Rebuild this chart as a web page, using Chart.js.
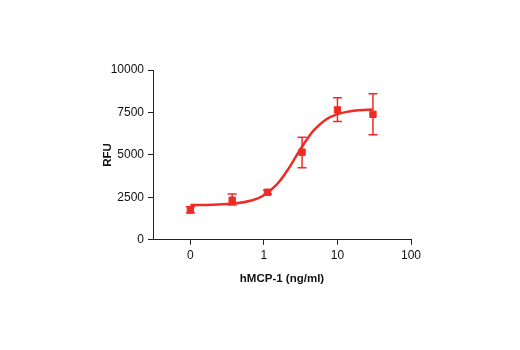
<!DOCTYPE html>
<html>
<head>
<meta charset="utf-8">
<script src="https://cdn.jsdelivr.net/npm/chart.js@4"></script>
<style>
  html, body { margin: 0; padding: 0; background: #fff; }
  #wrap { width: 520px; height: 350px; }
</style>
</head>
<body>
<div id="wrap"><canvas id="canvas-grafico-rfu"></canvas></div>
<script>
// measured points (hMCP-1 ng/ml vs RFU)
const doseX = [0.1, 0.37, 1.12, 3.3, 10, 30.4];
const rfuY = [1750, 2330, 2800, 5160, 7650, 7390];
const errLow = [1600, 2050, 2680, 4250, 6960, 6180];
const errHigh = [1950, 2700, 2920, 6040, 8370, 8600];

// fitted curve
const curveX = [0.1, 0.2, 0.4, 0.7, 1, 1.5, 2, 2.5, 3, 4, 5, 7, 10, 15, 20, 30];
const curveY = [2054, 2068, 2133, 2326, 2621, 3267, 3975, 4636, 5201, 6026, 6541, 7081, 7400, 7573, 7632, 7672];

const xTickValues = [0.1, 1, 10, 100];
const xTickLabels = ["0", "1", "10", "100"];
const yTickValues = [0, 2500, 5000, 7500, 10000];

const red = "#ee2b25";

const errorBars = {
  id: "errorBars",
  afterDatasetsDraw(chart) {
    const ctx = chart.ctx;
    const xs = chart.scales.x, ys = chart.scales.y;
    ctx.save();
    ctx.strokeStyle = red;
    ctx.lineWidth = 1.5;
    doseX.forEach((d, i) => {
      const px = xs.getPixelForValue(d);
      const top = ys.getPixelForValue(errHigh[i]);
      const bot = ys.getPixelForValue(errLow[i]);
      ctx.beginPath();
      ctx.moveTo(px, top); ctx.lineTo(px, bot);
      ctx.moveTo(px - 4.5, top); ctx.lineTo(px + 4.5, top);
      ctx.moveTo(px - 4.5, bot); ctx.lineTo(px + 4.5, bot);
      ctx.stroke();
    });
    ctx.restore();
  },
};

Chart.defaults.font.family = "'Liberation Sans', Arial, sans-serif";
Chart.defaults.color = "#111";

new Chart(document.getElementById("canvas-grafico-rfu"), {
  type: "scatter",
  plugins: [errorBars],
  data: {
    datasets: [
      {
        type: "line",
        data: curveX.map((x, i) => ({ x: x, y: curveY[i] })),
        borderColor: red,
        borderWidth: 2.5,
        pointRadius: 0,
        tension: 0.4,
        fill: false,
      },
      {
        data: doseX.map((x, i) => ({ x: x, y: rfuY[i] })),
        backgroundColor: red,
        borderColor: red,
        pointStyle: "rect",
        pointRadius: 4.5,
        pointHoverRadius: 4.5,
      },
    ],
  },
  options: {
    responsive: true,
    maintainAspectRatio: false,
    animation: false,
    layout: { padding: { left: 97, right: 109, top: 70, bottom: 60 } },
    plugins: {
      legend: { display: false },
      tooltip: { enabled: false },
    },
    scales: {
      x: {
        type: "logarithmic",
        min: 0.031,
        max: 100,
        afterBuildTicks: (scale) => {
          scale.ticks = xTickValues.map((v) => ({ value: v }));
        },
        ticks: {
          autoSkip: false,
          maxRotation: 0,
          font: { size: 12 },
          padding: 4,
          callback: (v) => xTickLabels[xTickValues.indexOf(v)],
        },
        grid: { drawOnChartArea: false, drawTicks: true, tickLength: 5, color: "#222" },
        border: { color: "#222", width: 1 },
        title: {
          display: true,
          text: "hMCP-1 (ng/ml)",
          font: { size: 11.5, weight: "bold" },
          padding: { top: 5 },
        },
      },
      y: {
        min: 0,
        max: 10000,
        afterBuildTicks: (scale) => {
          scale.ticks = yTickValues.map((v) => ({ value: v }));
        },
        afterFit: (scale) => {
          scale.width = 56;
        },
        ticks: { font: { size: 12 }, padding: 4, callback: (v) => String(v) },
        grid: { drawOnChartArea: false, drawTicks: true, tickLength: 5, color: "#222" },
        border: { color: "#222", width: 1 },
        title: {
          display: true,
          text: "RFU",
          font: { size: 11.5, weight: "bold" },
          padding: { bottom: 8 },
        },
      },
    },
  },
});
</script>
</body>
</html>
